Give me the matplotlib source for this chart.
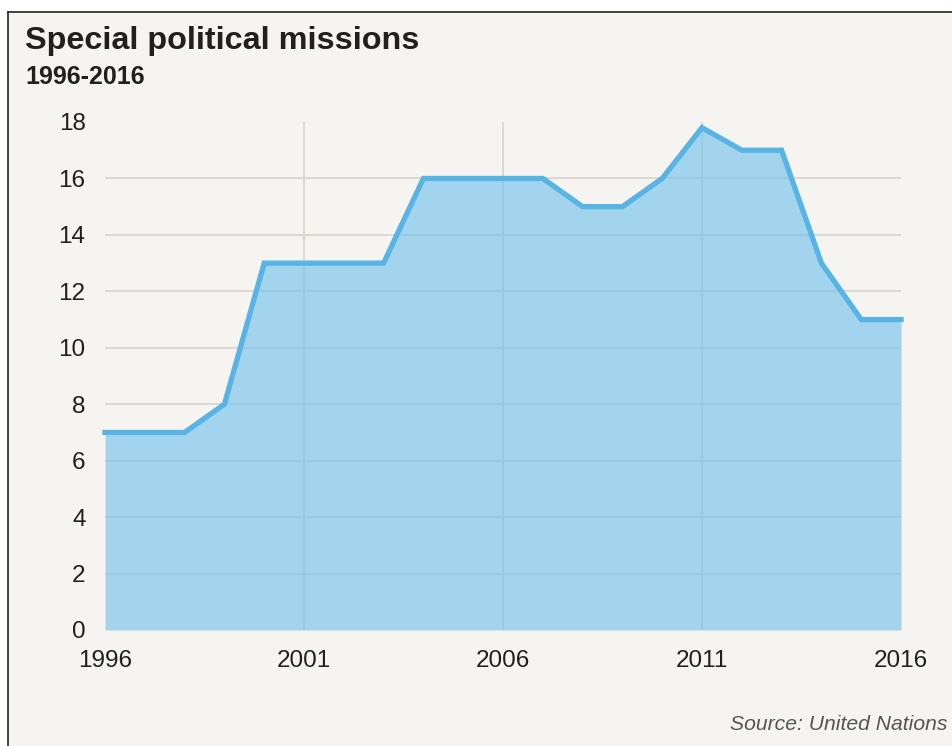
import numpy as np
import matplotlib.pyplot as plt
from matplotlib.lines import Line2D
from matplotlib.patches import Rectangle

plt.rcParams['font.family'] = ['Liberation Sans', 'DejaVu Sans']

# data
years = list(range(1996, 2017))
missions = [7, 7, 7, 8, 13, 13, 13, 13, 16, 16, 16, 16, 15, 15, 16, 17.8, 17, 17, 13, 11, 11]
x_ticks = [1996, 2001, 2006, 2011, 2016]
y_ticks = [0, 2, 4, 6, 8, 10, 12, 14, 16, 18]

title = "Special political missions"
subtitle = "1996-2016"
source = "Source: United Nations"

bg = '#f6f4f0'
grid_col = '#dbd3cd'
fill_col = '#6cc0ee'
line_col = '#58b4e4'
text_col = '#231f20'

fig = plt.figure(figsize=(9.53, 7.46), dpi=100)
fig.patch.set_facecolor('white')

# panel background + frame (left and top edges only are visible)
fig.patches.append(Rectangle((8/953, 0), 1, 1 - 12/746, transform=fig.transFigure,
                             facecolor=bg, edgecolor='none', zorder=-2))
fig.lines.append(Line2D([8/953, 8/953], [0, 1 - 12/746], transform=fig.transFigure,
                        color='#222222', lw=1.2))
fig.lines.append(Line2D([8/953, 1], [1 - 12/746, 1 - 12/746], transform=fig.transFigure,
                        color='#222222', lw=1.2))

ax = fig.add_axes([105/953, (746 - 630)/746, 796/953, 508/746])
ax.set_facecolor('none')

# grid (drawn under the translucent fill)
for y in y_ticks[1:-1]:
    ax.axhline(y, color=grid_col, lw=1.2, zorder=0)
for x in x_ticks[1:-1]:
    ax.axvline(x, color=grid_col, lw=1.2, zorder=0)

ax.fill_between(years, missions, 0, color=fill_col, alpha=0.6, lw=0, zorder=1)
ax.plot(years, missions, color=line_col, lw=3.8, solid_joinstyle='miter', zorder=2,
        clip_on=False)

ax.set_xlim(1996, 2016)
ax.set_ylim(0, 18)
for s in ax.spines.values():
    s.set_visible(False)
ax.tick_params(length=0)

ax.set_xticks(x_ticks)
ax.set_xticklabels([str(v) for v in x_ticks], fontsize=17.5, color=text_col)
ax.tick_params(axis='x', pad=14.5)
ax.set_yticks(y_ticks)
ax.set_yticklabels([str(v) for v in y_ticks], fontsize=17.5, color=text_col)
ax.tick_params(axis='y', pad=14)

fig.text(25/953, 1 - 41/746, title, fontsize=23.3, fontweight='bold', color=text_col,
         va='center', ha='left')
fig.text(25/953, 1 - 77/746, subtitle, fontsize=18, fontweight='bold', color=text_col,
         va='center', ha='left')
fig.text(948/953, 1 - 724/746, source, fontsize=15.2, style='italic', color='#555555',
         va='center', ha='right')

fig.savefig('out.png', dpi=100, facecolor=fig.get_facecolor())
